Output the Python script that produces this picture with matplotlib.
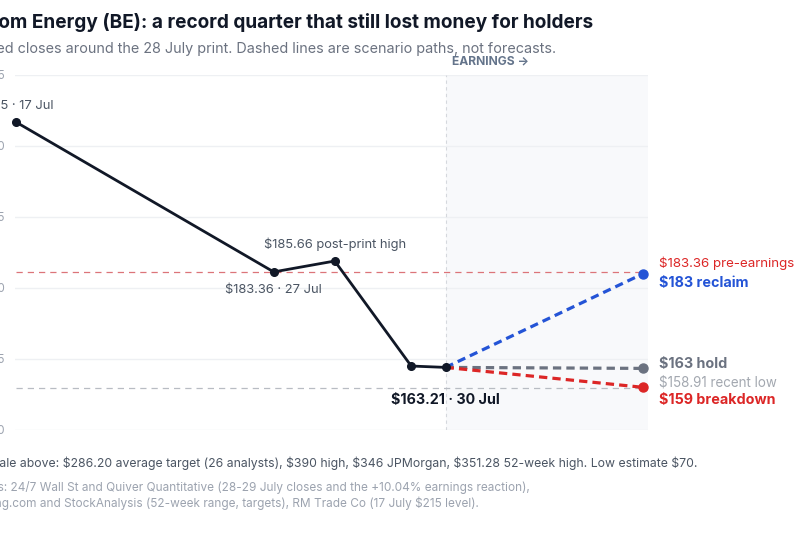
import matplotlib
matplotlib.use("Agg")
import matplotlib.pyplot as plt
import matplotlib.transforms as mtransforms

plt.rcParams['font.family'] = ['Inter', 'DejaVu Sans']

# ---------------- data ----------------
dates = ["17 Jul", "27 Jul", "28 Jul", "29 Jul", "30 Jul"]
session_x = [0.0, 6.0, 7.42, 9.2, 10.0]          # position on the session axis
closes = [215.00, 183.36, 185.66, 163.50, 163.21]

scenario_end_x = 14.6
scenario_names = ["reclaim", "hold", "breakdown"]
scenario_values = [183.0, 163.0, 159.0]
scenario_colors = ["#2454d6", "#6b7280", "#dc2626"]

pre_earnings = 183.36
recent_low = 158.91
earnings_x = 10.0

y_ticks = [150, 165, 180, 195, 210, 225]
y_tick_labels = ["$150", "$165", "$180", "$195", "$210", "$225"]

title = "Bloom Energy (BE): a record quarter that still lost money for holders"
subtitle = "Selected closes around the 28 July print. Dashed lines are scenario paths, not forecasts."
footnote = ("Off scale above: $286.20 average target (26 analysts), $390 high, $346 JPMorgan, "
            "$351.28 52-week high. Low estimate $70.")
sources = ["Sources: 24/7 Wall St and Quiver Quantitative (28-29 July closes and the +10.04% earnings reaction),",
           "Investing.com and StockAnalysis (52-week range, targets), RM Trade Co (17 July $215 level)."]

# ---------------- figure ----------------
W, H = 800, 533
fig = plt.figure(figsize=(W / 100, H / 100), dpi=100)
fig.patch.set_facecolor("white")

def fx(px):
    return px / W

def fy(py):
    return 1 - py / H

ax_left, ax_right, ax_top, ax_bottom = 15, 648, 74.6, 430
ax = fig.add_axes([fx(ax_left), fy(ax_bottom), fx(ax_right - ax_left), (ax_bottom - ax_top) / H])
ax.set_xlim(-0.02, 14.71)
ax.set_ylim(150, 225)
for s in ax.spines.values():
    s.set_visible(False)
ax.set_xticks([])
ax.set_yticks(y_ticks)
ax.set_yticklabels(y_tick_labels)
ax.tick_params(axis="y", length=0, pad=7, labelsize=8.4, labelcolor="#9ca3af")
ax.grid(axis="y", color="#eef0f3", linewidth=1.0)
ax.set_axisbelow(True)

# earnings shading
ax.axvspan(earnings_x, 14.71, color="#f8f9fb", zorder=0.5, lw=0)
ax.axvline(earnings_x, color="#d5d8dd", lw=0.8, dashes=(3, 3), zorder=1)

# reference lines
ax.plot([0, scenario_end_x], [pre_earnings] * 2, color="#dc7479", lw=0.9, dashes=(5, 4), zorder=2)
ax.plot([0, scenario_end_x], [recent_low] * 2, color="#b8bcc3", lw=0.9, dashes=(5, 4), zorder=2)

# scenario paths
for v, c in zip(scenario_values, scenario_colors):
    ax.plot([session_x[-1], scenario_end_x], [closes[-1], v], color=c, lw=2.3,
            dashes=(2.6, 1.6), zorder=3, solid_capstyle="butt")
    ax.plot([scenario_end_x], [v], "o", color=c, ms=6.5, zorder=4, clip_on=False)

# price line
ax.plot(session_x, closes, color="#111827", lw=2.0, marker="o", ms=5.5, zorder=5, clip_on=False)

# point labels
lab_color = "#4b5563"
ax.annotate("$215 · 17 Jul", (session_x[0], closes[0]), xytext=(0, 11.8), textcoords="offset points",
            ha="center", va="center", fontsize=9.4, color=lab_color)
ax.annotate("$185.66 post-print high", (session_x[2], closes[2]), xytext=(0, 11.8), textcoords="offset points",
            ha="center", va="center", fontsize=9.3, color=lab_color)
ax.annotate("$183.36 · 27 Jul", (session_x[1], closes[1]), xytext=(0, -12.8), textcoords="offset points",
            ha="center", va="center", fontsize=9.3, color=lab_color)
ax.annotate("$163.21 · 30 Jul", (session_x[4], closes[4]), xytext=(0, -23.5), textcoords="offset points",
            ha="center", va="center", fontsize=10.3, color="#111827", fontweight="bold")

# right-hand labels
trans = mtransforms.blended_transform_factory(fig.transFigure, ax.transData)
rx = fx(659)
ax.text(rx, pre_earnings + 1.8, "$183.36 pre-earnings", transform=trans, ha="left", va="center",
        fontsize=9.6, color="#dc2626")
ax.text(rx, scenario_values[0] - 2.0, "$183 " + scenario_names[0], transform=trans, ha="left", va="center",
        fontsize=10.3, color=scenario_colors[0], fontweight="bold")
ax.text(rx, scenario_values[1] + 0.95, "$163 " + scenario_names[1], transform=trans, ha="left", va="center",
        fontsize=10.3, color=scenario_colors[1], fontweight="bold")
ax.text(rx, recent_low + 1.2, "$158.91 recent low", transform=trans, ha="left", va="center",
        fontsize=9.65, color="#a3a8b0")
ax.text(rx, scenario_values[2] - 2.6, "$159 " + scenario_names[2], transform=trans, ha="left", va="center",
        fontsize=10.3, color=scenario_colors[2], fontweight="bold")

# earnings marker text
ax.text(fx(452), fy(61), "EARNINGS →", transform=fig.transFigure, ha="left", va="center",
        fontsize=8.7, color="#64748b", fontweight="bold")

# titles and notes (the original left margin lies outside this crop; anchor at right ends)
fig.text(fx(593), fy(23), title, ha="right", va="center", fontsize=13.7, fontweight="bold", color="#111827")
fig.text(fx(556), fy(49), subtitle, ha="right", va="center", fontsize=10.35, color="#6b7280")
fig.text(fx(697), fy(463), footnote, ha="right", va="center", fontsize=8.8, color="#4b5563")
fig.text(fx(530), fy(488), sources[0], ha="right", va="center", fontsize=8.5, color="#9ca3af")
fig.text(fx(479), fy(503), sources[1], ha="right", va="center", fontsize=8.5, color="#9ca3af")

fig.savefig("out.png", dpi=100, facecolor="white")
